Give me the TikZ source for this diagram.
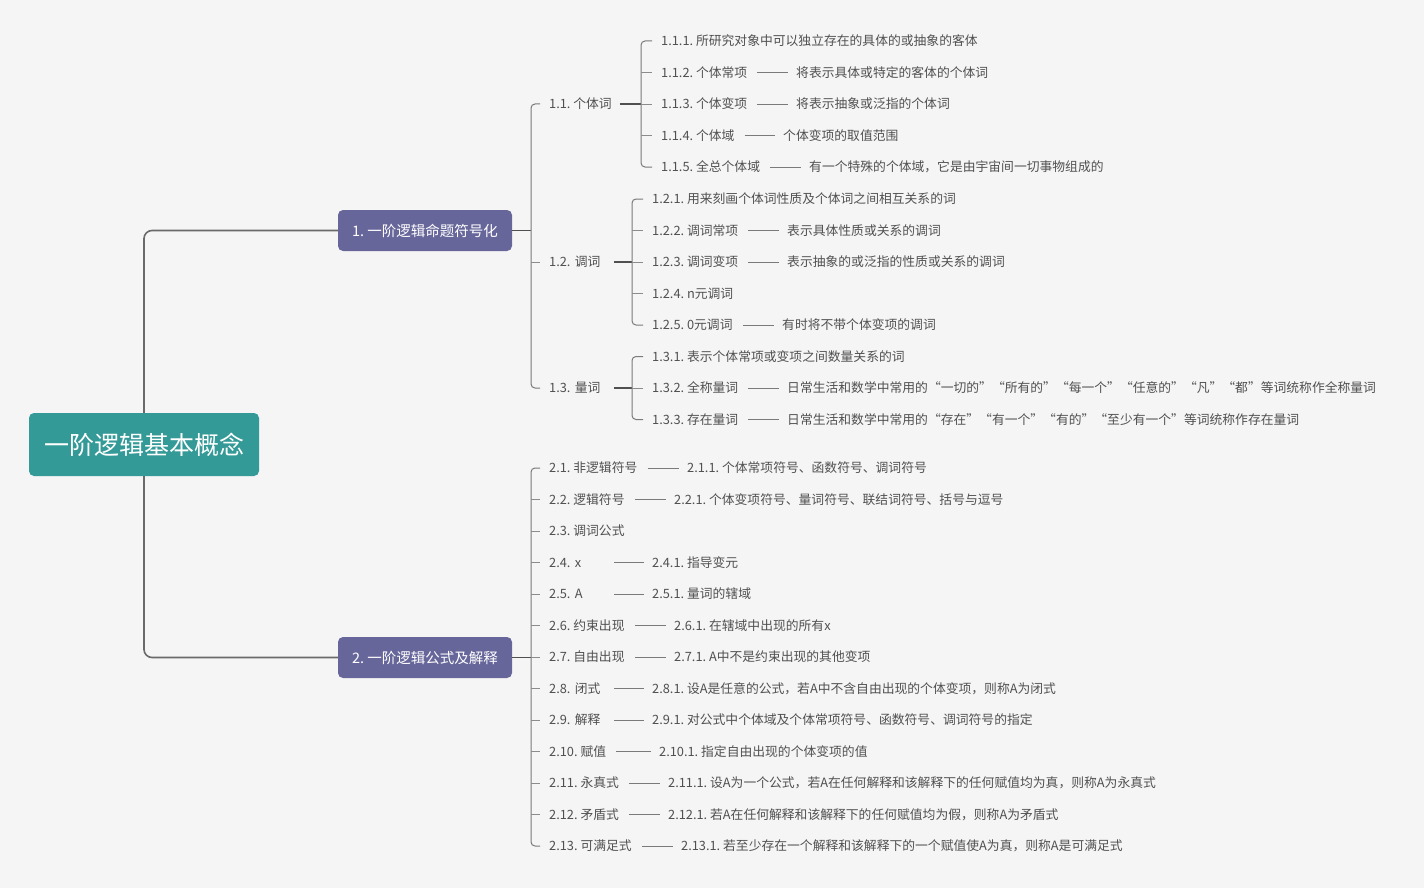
\documentclass[tikz,border=0pt]{standalone}
\usepackage{fontspec}
\setmainfont{Noto Sans CJK SC}
\usetikzlibrary{positioning, calc}
\definecolor{pagebg}{HTML}{F5F5F5}
\definecolor{rootteal}{HTML}{349A97}
\definecolor{topicpurple}{HTML}{67669B}
\definecolor{txtgray}{HTML}{505050}
\definecolor{linkgray}{HTML}{6A6A6A}
\definecolor{brkgray}{HTML}{7A7A7A}
\definecolor{tickgray}{HTML}{8C8C8C}
\newcommand\qt[1]{{\addfontfeature{RawFeature=+fwid}“#1”}}
\frenchspacing
\tikzset{
  rootbox/.style={rectangle, fill=rootteal, text=white, rounded corners=5pt,
    minimum width=230pt, minimum height=63pt, font=\fontsize{25}{30}\selectfont},
  topic/.style={rectangle, fill=topicpurple, text=white, rounded corners=5pt,
    minimum width=174pt, minimum height=41pt, font=\fontsize{14.5}{17}\selectfont},
  item/.style={anchor=west, inner sep=0pt, text=txtgray,
    font=\fontsize{12.8}{15}\selectfont},
  shortitem/.style={item, text width=55pt, align=left},
  link/.style={line width=1.6pt, color=linkgray, rounded corners=8pt},
  stem/.style={line width=1.5pt, color=txtgray},
  brk/.style={line width=1pt, color=brkgray, rounded corners=4pt},
  tick/.style={line width=0.8pt, color=tickgray},
  dashline/.style={line width=0.8pt, color=brkgray}
}
\begin{document}
\begin{tikzpicture}[x=1pt, y=-1pt]
  \fill[pagebg] (0,0) rectangle (1424,888);

  % root and main topics
  \node[rootbox] (r)  at (144,444.5) {一阶逻辑基本概念};
  \node[topic]   (t1) at (425,230.5) {1. 一阶逻辑命题符号化};
  \node[topic]   (t2) at (425,657.5) {2. 一阶逻辑公式及解释};
  \draw[link] (r.north) |- (t1.west);
  \draw[link] (r.south) |- (t2.west);

  % 1.x
  \node[item]      (s11) at (549,104) {1.1. 个体词};
  \node[shortitem] (s12) at (549,262) {1.2. 调词};
  \node[shortitem] (s13) at (549,388) {1.3. 量词};

  \node[item] (s111) at (661,41)    {1.1.1. 所研究对象中可以独立存在的具体的或抽象的客体};
  \node[item] (s112) at (661,72.5)  {1.1.2. 个体常项};
  \node[item] (d112) at (796,72.5)  {将表示具体或特定的客体的个体词};
  \node[item] (s113) at (661,104)   {1.1.3. 个体变项};
  \node[item] (d113) at (796,104)   {将表示抽象或泛指的个体词};
  \node[item] (s114) at (661,135.5) {1.1.4. 个体域};
  \node[item] (d114) at (783,135.5) {个体变项的取值范围};
  \node[item] (s115) at (661,167)   {1.1.5. 全总个体域};
  \node[item] (d115) at (809,167)   {有一个特殊的个体域，它是由宇宙间一切事物组成的};

  \node[item] (s121) at (652,199)   {1.2.1. 用来刻画个体词性质及个体词之间相互关系的词};
  \node[item] (s122) at (652,230.5) {1.2.2. 调词常项};
  \node[item] (d122) at (787,230.5) {表示具体性质或关系的调词};
  \node[item] (s123) at (652,262)   {1.2.3. 调词变项};
  \node[item] (d123) at (787,262)   {表示抽象的或泛指的性质或关系的调词};
  \node[item] (s124) at (652,293.5) {1.2.4. n元调词};
  \node[item] (s125) at (652,325)   {1.2.5. 0元调词};
  \node[item] (d125) at (782,325)   {有时将不带个体变项的调词};

  \node[item] (s131) at (652,356.5) {1.3.1. 表示个体常项或变项之间数量关系的词};
  \node[item] (s132) at (652,388)   {1.3.2. 全称量词};
  \node[item] (d132) at (787,388)   {日常生活和数学中常用的\qt{一切的}\qt{所有的}\qt{每一个}\qt{任意的}\qt{凡}\qt{都}等词统称作全称量词};
  \node[item] (s133) at (652,419.5) {1.3.3. 存在量词};
  \node[item] (d133) at (787,419.5) {日常生活和数学中常用的\qt{存在}\qt{有一个}\qt{有的}\qt{至少有一个}等词统称作存在量词};

  % 2.x
  \node[item]      (b1)  at (549,468)   {2.1. 非逻辑符号};
  \node[item]      (b2)  at (549,499.5) {2.2. 逻辑符号};
  \node[item]      (b3)  at (549,531)   {2.3. 调词公式};
  \node[shortitem] (b4)  at (549,562.5) {2.4. x};
  \node[shortitem] (b5)  at (549,594)   {2.5. A};
  \node[item]      (b6)  at (549,625.5) {2.6. 约束出现};
  \node[item]      (b7)  at (549,657)   {2.7. 自由出现};
  \node[shortitem] (b8)  at (549,688.5) {2.8. 闭式};
  \node[shortitem] (b9)  at (549,720)   {2.9. 解释};
  \node[item]      (b10) at (549,751.5) {2.10. 赋值};
  \node[item]      (b11) at (549,783)   {2.11. 永真式};
  \node[item]      (b12) at (549,814.5) {2.12. 矛盾式};
  \node[item]      (b13) at (549,846)   {2.13. 可满足式};

  \node[item] (c1)  at (687,468)   {2.1.1. 个体常项符号、函数符号、调词符号};
  \node[item] (c2)  at (674,499.5) {2.2.1. 个体变项符号、量词符号、联结词符号、括号与逗号};
  \node[item] (c4)  at (652,562.5) {2.4.1. 指导变元};
  \node[item] (c5)  at (652,594)   {2.5.1. 量词的辖域};
  \node[item] (c6)  at (674,625.5) {2.6.1. 在辖域中出现的所有x};
  \node[item] (c7)  at (674,657)   {2.7.1. A中不是约束出现的其他变项};
  \node[item] (c8)  at (652,688.5) {2.8.1. 设A是任意的公式，若A中不含自由出现的个体变项，则称A为闭式};
  \node[item] (c9)  at (652,720)   {2.9.1. 对公式中个体域及个体常项符号、函数符号、调词符号的指定};
  \node[item] (c10) at (659,751.5) {2.10.1. 指定自由出现的个体变项的值};
  \node[item] (c11) at (668,783)   {2.11.1. 设A为一个公式，若A在任何解释和该解释下的任何赋值均为真，则称A为永真式};
  \node[item] (c12) at (668,814.5) {2.12.1. 若A在任何解释和该解释下的任何赋值均为假，则称A为矛盾式};
  \node[item] (c13) at (681,846)   {2.13.1. 若至少存在一个解释和该解释下的一个赋值使A为真，则称A是可满足式};

  % brackets of the main topics
  \coordinate (k1) at ([xshift=-18pt]s11.west);
  \coordinate (k2) at ([xshift=-18pt]b1.west);
  \draw[stem] (t1.east) -- (t1.east -| k1);
  \draw[stem] (t2.east) -- (t2.east -| k2);
  \draw[brk] ([xshift=-9pt]s11.west) -- ([xshift=-18pt]s11.west) -- ([xshift=-18pt]s13.west) -- ([xshift=-9pt]s13.west);
  \draw[tick] ([xshift=-18pt]s12.west) -- ([xshift=-9pt]s12.west);
  \draw[brk] ([xshift=-9pt]b1.west) -- ([xshift=-18pt]b1.west) -- ([xshift=-18pt]b13.west) -- ([xshift=-9pt]b13.west);
  \foreach \i in {2,...,12}
    \draw[tick] ([xshift=-18pt]b\i.west) -- ([xshift=-9pt]b\i.west);

  % brackets of 1.1, 1.2, 1.3
  \draw[stem] ([xshift=8pt]s11.east) -- ([xshift=-20pt]s113.west);
  \draw[brk] ([xshift=-9pt]s111.west) -- ([xshift=-20pt]s111.west) -- ([xshift=-20pt]s115.west) -- ([xshift=-9pt]s115.west);
  \foreach \n in {s112,s113,s114}
    \draw[tick] ([xshift=-20pt]\n.west) -- ([xshift=-9pt]\n.west);

  \draw[stem] ([xshift=10pt]s12.east) -- ([xshift=-20pt]s123.west);
  \draw[brk] ([xshift=-9pt]s121.west) -- ([xshift=-20pt]s121.west) -- ([xshift=-20pt]s125.west) -- ([xshift=-9pt]s125.west);
  \foreach \n in {s122,s123,s124}
    \draw[tick] ([xshift=-20pt]\n.west) -- ([xshift=-9pt]\n.west);

  \draw[stem] ([xshift=10pt]s13.east) -- ([xshift=-20pt]s132.west);
  \draw[brk] ([xshift=-9pt]s131.west) -- ([xshift=-20pt]s131.west) -- ([xshift=-20pt]s133.west) -- ([xshift=-9pt]s133.west);
  \draw[tick] ([xshift=-20pt]s132.west) -- ([xshift=-9pt]s132.west);

  % dashes between a topic and its note
  \foreach \p/\d in {s112/d112, s113/d113, s114/d114, s115/d115, s122/d122, s123/d123,
      s125/d125, s132/d132, s133/d133, b1/c1, b2/c2, b4/c4, b5/c5, b6/c6, b7/c7,
      b8/c8, b9/c9, b10/c10, b11/c11, b12/c12, b13/c13}
    \draw[dashline] ([xshift=10pt]\p.east) -- ([xshift=-8pt]\d.west);
\end{tikzpicture}
\end{document}
